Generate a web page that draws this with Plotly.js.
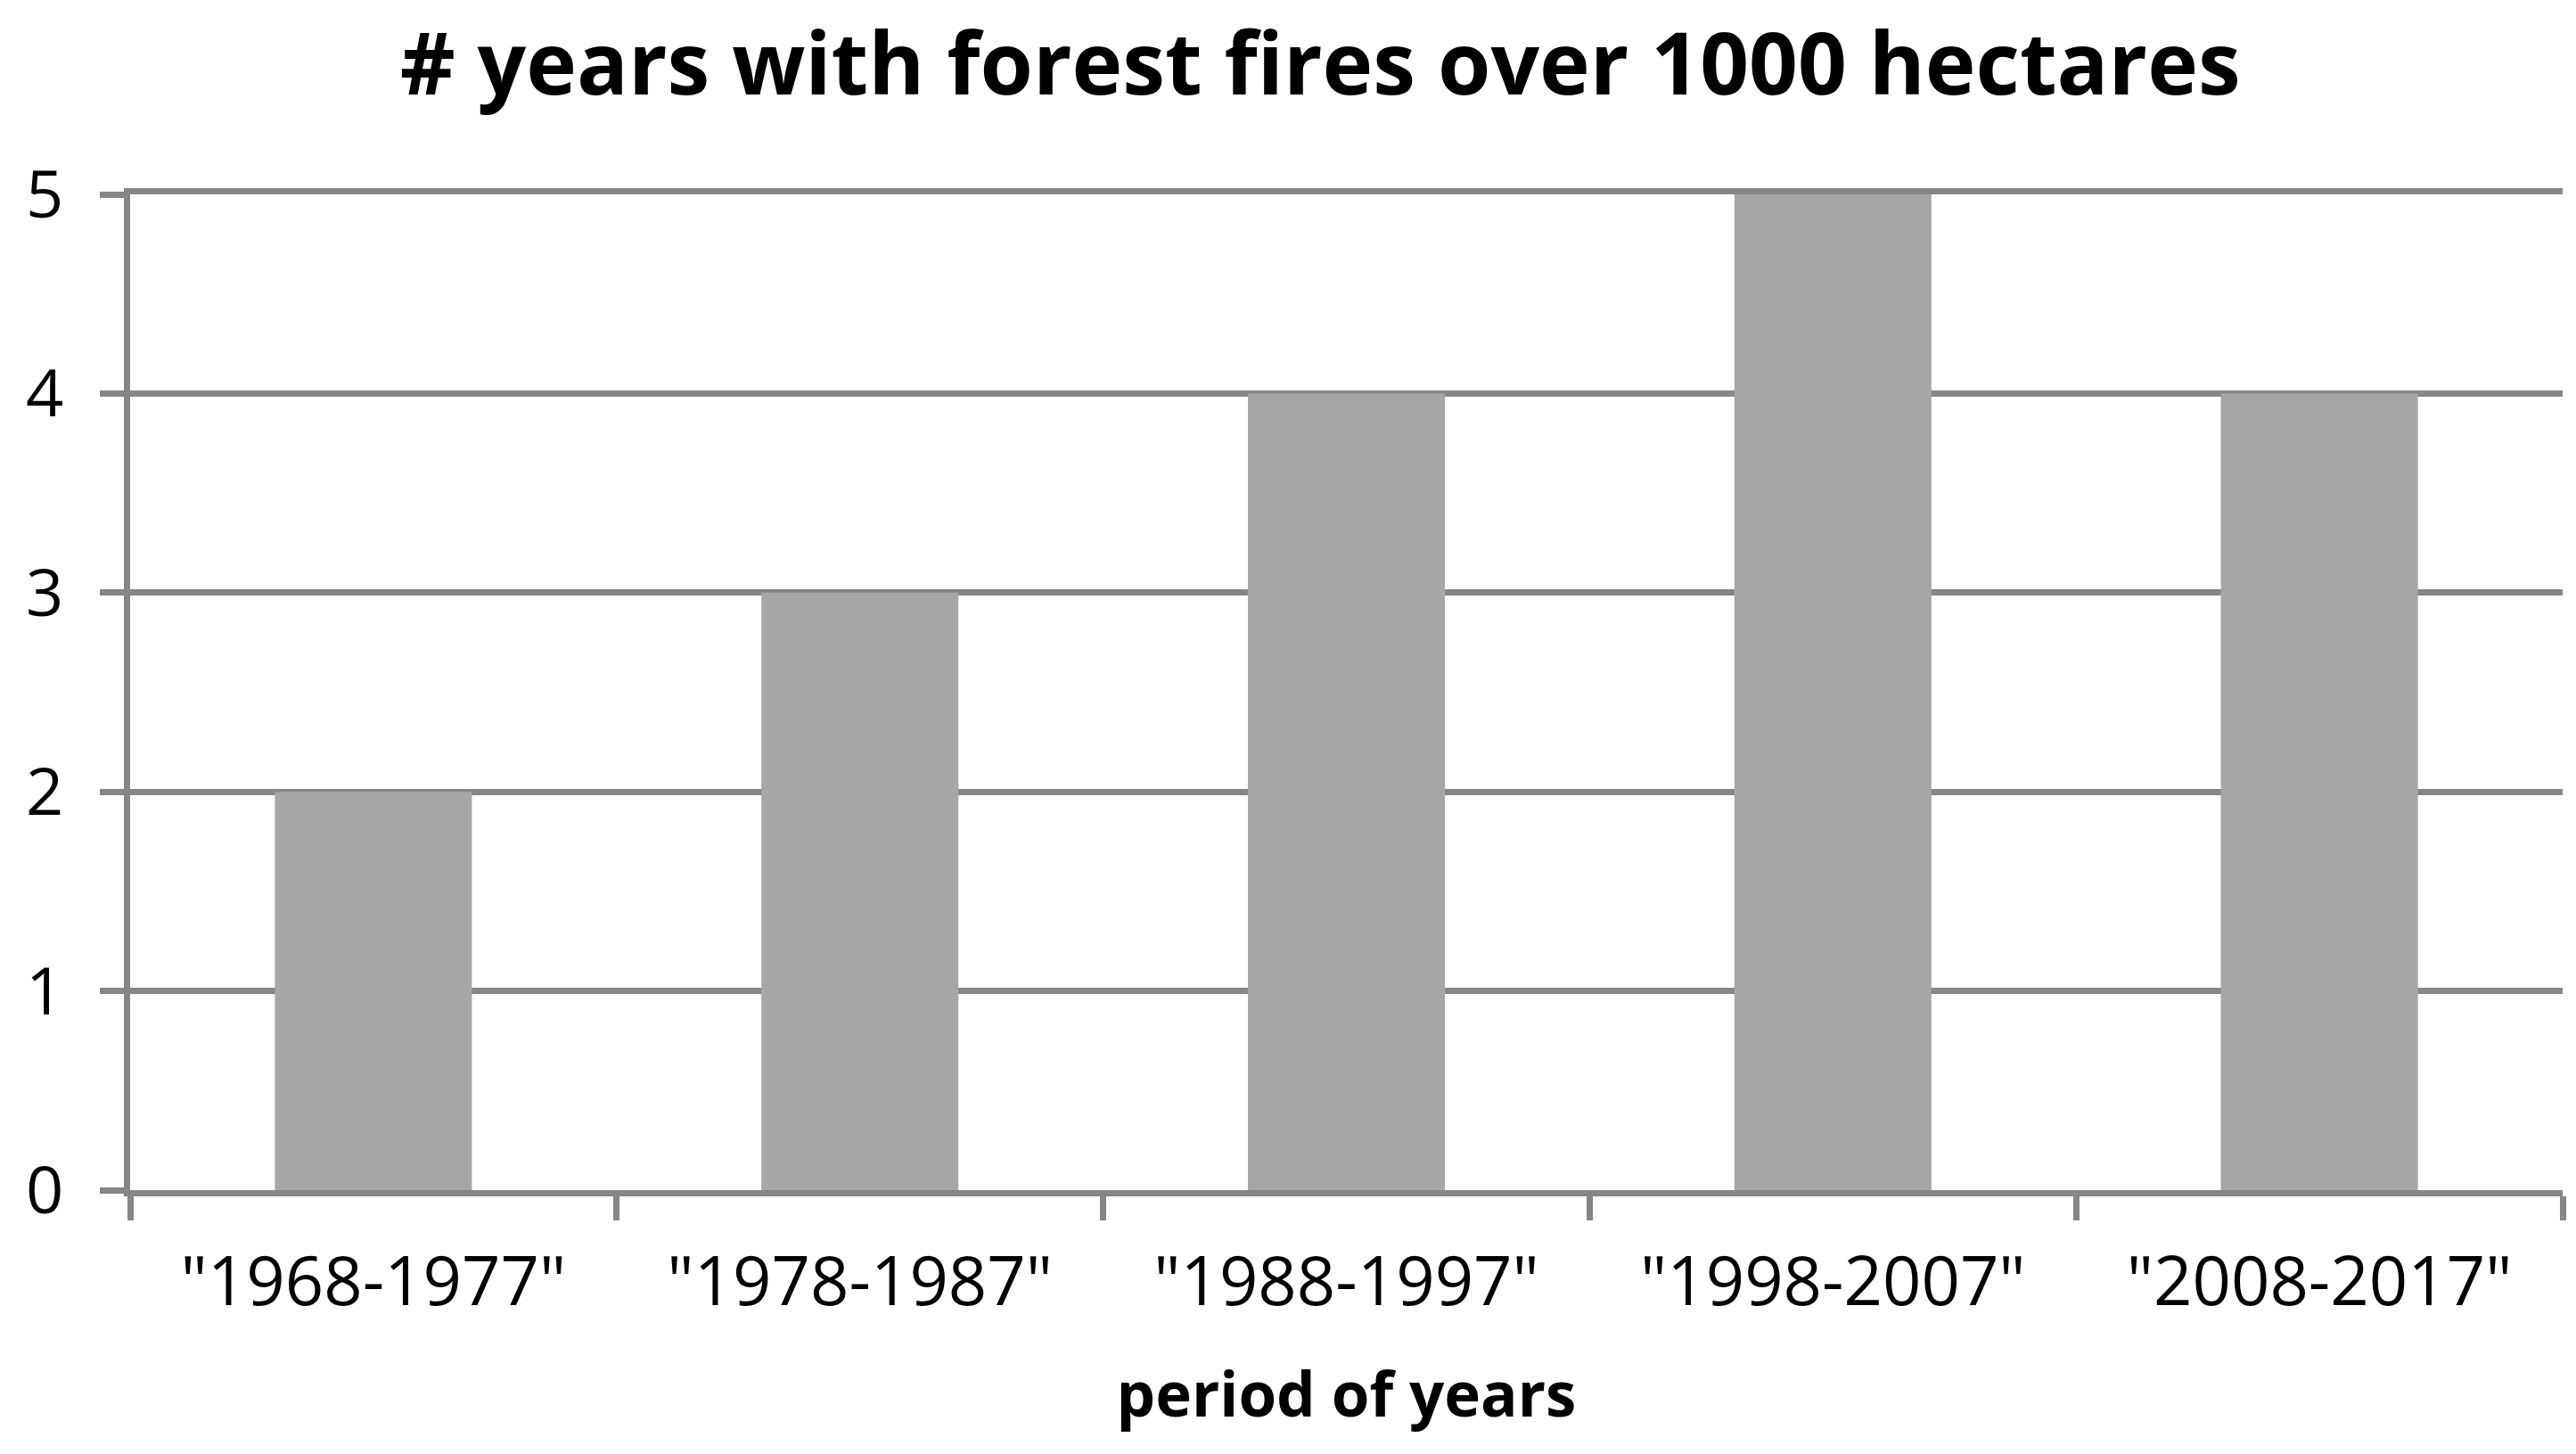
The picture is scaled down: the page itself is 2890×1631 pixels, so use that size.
<!DOCTYPE html>
<html>
<head>
<meta charset="utf-8">
<script src="https://cdn.plot.ly/plotly-3.0.1.min.js"></script>
<style>html,body{margin:0;padding:0;background:#fff;}#chart{width:2890px;height:1631px;}</style>
</head>
<body>
<div id="chart"></div>
<script>
const periods = ['"1968-1977"', '"1978-1987"', '"1988-1997"', '"1998-2007"', '"2008-2017"'];
const yearsWithFires = [2, 3, 4, 5, 4];
const yTicks = [0, 1, 2, 3, 4, 5];

const FONT = 'Open Sans, sans-serif';
const axisGrey = '#868686';

const trace = {
  type: 'bar',
  x: periods,
  y: yearsWithFires,
  marker: {color: '#A6A6A6', line: {width: 0}},
  hoverinfo: 'x+y'
};

const layout = {
  width: 2890,
  height: 1631,
  paper_bgcolor: '#ffffff',
  plot_bgcolor: '#ffffff',
  margin: {l: 146, r: 15, t: 218, b: 296, pad: 0},
  showlegend: false,
  bargap: 0.595,
  title: {
    text: '<b># years with forest fires over 1000 hectares</b>',
    font: {family: FONT, size: 96, color: '#000000'},
    xref: 'container', x: 0.5125, xanchor: 'center',
    yref: 'container', y: 1 - 72 / 1631, yanchor: 'middle'
  },
  xaxis: {
    type: 'category',
    tickson: 'boundaries',
    ticks: 'outside',
    ticklen: 27,
    tickwidth: 7,
    tickcolor: axisGrey,
    showline: true,
    mirror: true,
    linecolor: axisGrey,
    linewidth: 7,
    showgrid: false,
    zeroline: false,
    ticklabelstandoff: 31,
    tickfont: {family: FONT, size: 76, color: '#000000'},
    title: {
      text: '<b>period of years</b>',
      font: {family: FONT, size: 69, color: '#000000'},
      standoff: 58
    },
    fixedrange: true
  },
  yaxis: {
    range: [0, 5],
    tickvals: yTicks,
    ticktext: yTicks.map(String),
    ticks: 'outside',
    ticklen: 27,
    tickwidth: 7,
    tickcolor: axisGrey,
    showline: true,
    linecolor: axisGrey,
    linewidth: 7,
    showgrid: true,
    gridcolor: axisGrey,
    gridwidth: 7,
    zeroline: false,
    ticklabelstandoff: 26,
    tickfont: {family: FONT, size: 74, color: '#000000'},
    fixedrange: true
  }
};

Plotly.newPlot('chart', [trace], layout, {displayModeBar: false, staticPlot: true});
</script>
</body>
</html>
